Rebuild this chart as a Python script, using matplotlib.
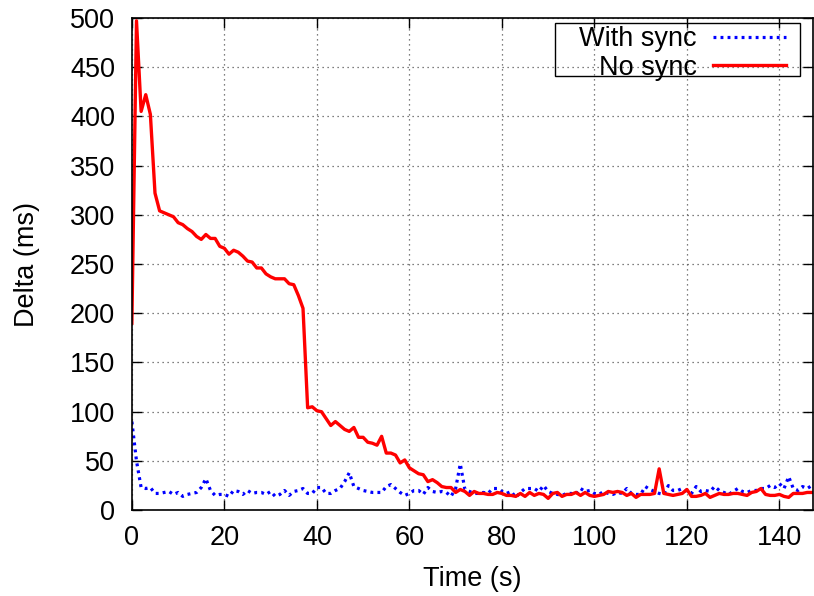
import numpy as np
import matplotlib.pyplot as plt
from matplotlib.patches import Rectangle

plt.rcParams['font.family'] = ['Liberation Sans', 'DejaVu Sans']

# Time axis (one sample per second)
time_s = np.arange(0, 148)

# Delta with synchronisation (ms)
with_sync = [90, 50, 23, 22, 23, 17, 17, 18, 19, 16,
             18, 14, 16, 17, 18, 23, 32, 20, 15, 16,
             16, 14, 20, 19, 16, 20, 17, 18, 18, 16,
             19, 14, 16, 20, 15, 19, 20, 22, 17, 17,
             23, 23, 17, 17, 20, 22, 29, 38, 24, 22,
             20, 19, 18, 18, 18, 24, 26, 22, 18, 15,
             17, 20, 20, 16, 23, 19, 18, 19, 18, 14,
             22, 47, 21, 19, 17, 17, 18, 17, 22, 22,
             19, 17, 19, 13, 18, 22, 22, 22, 19, 25,
             19, 17, 16, 15, 17, 17, 16, 22, 19, 20,
             17, 16, 19, 17, 16, 18, 17, 22, 17, 16,
             16, 24, 21, 19, 17, 16, 25, 20, 20, 22,
             19, 17, 24, 19, 20, 19, 24, 20, 18, 16,
             19, 22, 19, 18, 20, 20, 22, 22, 25, 23,
             27, 22, 34, 22, 20, 24, 22, 25]

# Delta without synchronisation (ms)
no_sync = [190, 497, 405, 422, 402, 322, 304, 302, 300, 298,
           292, 290, 286, 283, 278, 275, 280, 276, 276, 268,
           266, 260, 264, 262, 258, 253, 252, 246, 246, 240,
           237, 235, 235, 235, 230, 229, 218, 205, 104, 105,
           101, 100, 93, 86, 90, 86, 82, 80, 84, 74,
           74, 69, 68, 66, 75, 58, 58, 56, 48, 51,
           43, 40, 37, 36, 29, 31, 28, 24, 23, 23,
           18, 21, 19, 15, 19, 17, 17, 16, 16, 18,
           17, 15, 15, 14, 17, 14, 18, 15, 17, 16,
           12, 17, 18, 14, 16, 16, 18, 15, 18, 15,
           14, 15, 16, 19, 18, 19, 18, 15, 17, 13,
           16, 16, 16, 17, 42, 17, 16, 15, 16, 17,
           21, 14, 14, 15, 17, 13, 15, 17, 16, 16,
           17, 17, 16, 15, 18, 19, 22, 16, 15, 15,
           16, 14, 13, 17, 17, 17, 18, 18]

fs = 19.5
W, H = 814, 596
fig = plt.figure(figsize=(W / 100, H / 100), dpi=100)
ax = fig.add_axes([0.162, 0.144, 0.837, 0.826])

ax.plot(time_s, with_sync, color='#0000ff', linestyle=(0, (0.9, 1.3)),
        linewidth=2.3, label='With sync')
ax.plot(time_s, no_sync, color='#ff0000', linewidth=2.4, label='No sync')

ax.set_xlim(0, 147.3)
ax.set_ylim(0, 500)
ax.set_xticks(np.arange(0, 141, 20))
ax.set_yticks(np.arange(0, 501, 50))
ax.tick_params(direction='in', length=7, width=1, labelsize=fs,
               top=True, right=True)
ax.tick_params(axis='x', pad=11)
ax.tick_params(axis='y', pad=12)
for s in ax.spines.values():
    s.set_linewidth(1.2)

ax.grid(True, color='#555555', linestyle=(0, (1, 3)), linewidth=0.9)

ax.set_xlabel('Time (s)', fontsize=fs)
ax.set_ylabel('Delta (ms)', fontsize=fs)
ax.xaxis.set_label_coords(0.5, -0.114)
ax.yaxis.set_label_coords(-0.135, 0.5)

leg = fig.legend(loc='upper right', bbox_to_anchor=(786 / W, 1 - 26 / H),
                 markerfirst=False, fontsize=fs, frameon=False,
                 handlelength=2.7, borderaxespad=0, labelspacing=0.1,
                 handletextpad=0.6, borderpad=0)
for t in leg.get_texts():
    t.set_ha('right')
fig.patches.append(Rectangle((555 / W, 1 - 76 / H), 245 / W, 53 / H,
                             transform=fig.transFigure, fill=False,
                             edgecolor='black', linewidth=1.0, zorder=5))

fig.savefig('out.png', dpi=100)
